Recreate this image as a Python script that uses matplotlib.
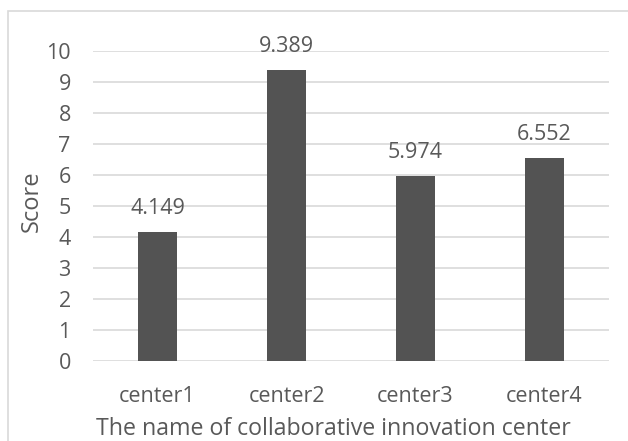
import matplotlib
matplotlib.use("Agg")
import matplotlib.pyplot as plt
from matplotlib.patches import Rectangle

categories = ["center1", "center2", "center3", "center4"]
scores = [4.149, 9.389, 5.974, 6.552]
y_ticks = [0, 1, 2, 3, 4, 5, 6, 7, 8, 9, 10]

plt.rcParams['font.family'] = ['Open Sans', 'DejaVu Sans']
text_color = "#595959"
bar_color = "#535353"
grid_color = "#d9d9d9"

W, H = 628, 441
fig = plt.figure(figsize=(W / 100, H / 100), dpi=100)
ax = fig.add_axes([93 / W, 1 - 361 / H, (609 - 93) / W, (361 - 51) / H])

x = list(range(len(categories)))
ax.bar(x, scores, width=0.31, color=bar_color, zorder=3)
for xi, v in zip(x, scores):
    ax.annotate(f"{v:.3f}", (xi, v), xytext=(0, 17), textcoords="offset points",
                ha="center", va="center", fontsize=15.5, color=text_color)

ax.set_xlim(-0.5, len(categories) - 0.5)
ax.set_ylim(0, 10)
ax.set_yticks(y_ticks)
ax.set_xticks(x)
ax.set_xticklabels(categories)
ax.tick_params(axis="both", length=0, labelsize=15.5, colors=text_color)
ax.tick_params(axis="x", pad=18)
ax.tick_params(axis="y", pad=16)
ax.yaxis.grid(True, color=grid_color, linewidth=1.2, zorder=0)
for s in ax.spines.values():
    s.set_visible(False)

ax.set_ylabel("Score", fontsize=17, color=text_color, va="center", ha="center")
ax.yaxis.set_label_coords(-0.118, 0.516)
ax.set_xlabel("The name of collaborative innovation center", fontsize=16.7,
              color=text_color, va="center", ha="center")
ax.xaxis.set_label_coords(0.465, -0.218)

# chart area frame
fig.patches.append(Rectangle((8 / W, -0.1), 1.2, 1 - 11 / H + 0.1,
                             transform=fig.transFigure, fill=False,
                             edgecolor=grid_color, linewidth=1.2))

fig.savefig("out.png", dpi=100, facecolor="white")
